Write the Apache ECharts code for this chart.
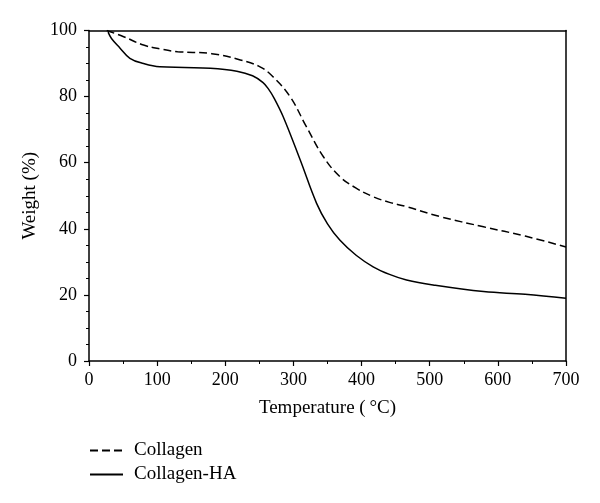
<!DOCTYPE html>
<html>
<head>
<meta charset="utf-8">
<script src="https://cdn.jsdelivr.net/npm/echarts@6/dist/echarts.min.js"></script>
<style>html,body{margin:0;padding:0;background:#fff}#c{width:600px;height:503px}</style>
</head>
<body>
<div id="c"></div>
<script>
var seriesNames = ['Collagen', 'Collagen-HA'];
var collagenT = [26, 50, 80, 105, 130, 180, 222, 251, 270, 295, 319, 344, 368, 392, 417, 441, 466, 515, 579, 640, 700];
var collagenW = [100, 98.2, 95.6, 94.4, 93.6, 93.0, 91.1, 89, 86, 80, 70.9, 61.8, 55.8, 52.3, 49.7, 48, 46.7, 43.7, 40.6, 37.8, 34.5];
var collagenHAT = [28, 33, 45, 60, 80, 104, 140, 178, 217, 240, 255, 263, 272, 285, 310, 334, 350, 368, 392, 417, 441, 466, 505, 579, 640, 700];
var collagenHAW = [99.5, 97.6, 94.8, 91.6, 90, 89, 88.8, 88.6, 87.7, 86.3, 84.3, 82.4, 79.4, 73.9, 60.8, 47.7, 41.5, 36.6, 32, 28.5, 26.2, 24.5, 23, 21, 20.2, 19];
var xTicks = [0, 100, 200, 300, 400, 500, 600, 700];
var yTicks = [0, 20, 40, 60, 80, 100];

function pairs(xs, ys) { return xs.map(function (x, i) { return [x, ys[i]]; }); }

var font = 'Liberation Serif';
var chart = echarts.init(document.getElementById('c'));
chart.setOption({
  animation: false,
  textStyle: { fontFamily: font, color: '#000' },
  grid: { left: 89, right: 34, top: 30.5, bottom: 142, show: false },
  legend: {
    orient: 'vertical', left: 84, top: 436, itemWidth: 33, itemHeight: 14, itemGap: 5,
    itemStyle: { opacity: 0 },
    textStyle: { fontFamily: font, fontSize: 19, color: '#000', padding: [0, 0, 0, 6] },
    data: seriesNames.map(function (n) { return { name: n }; })
  },
  xAxis: [{
    type: 'value', min: 0, max: 700, interval: 100,
    name: 'Temperature (\u2009°C)', nameLocation: 'middle', nameGap: 38,
    nameTextStyle: { fontFamily: font, fontSize: 19, color: '#000' },
    axisLine: { lineStyle: { color: '#000', width: 1.5 } },
    axisTick: { show: true, inside: false, length: 5, lineStyle: { color: '#000', width: 1.2 } },
    minorTick: { show: true, splitNumber: 2, length: 3, lineStyle: { color: '#000', width: 1 } },
    axisLabel: { fontFamily: font, fontSize: 18, color: '#000', margin: 10,
      formatter: function (v) { return xTicks.indexOf(v) >= 0 ? String(v) : ''; } },
    splitLine: { show: false }
  }, {
    type: 'value', min: 0, max: 700, position: 'top',
    axisLine: { show: true, onZero: false, lineStyle: { color: '#000', width: 1.5 } },
    axisTick: { show: false }, axisLabel: { show: false }, splitLine: { show: false }
  }],
  yAxis: [{
    type: 'value', min: 0, max: 100, interval: 20,
    name: 'Weight (%)', nameLocation: 'middle', nameGap: 49,
    nameTextStyle: { fontFamily: font, fontSize: 19, color: '#000' },
    axisLine: { show: true, lineStyle: { color: '#000', width: 1.5 } },
    axisTick: { show: true, length: 5, lineStyle: { color: '#000', width: 1.2 } },
    minorTick: { show: true, splitNumber: 4, length: 3, lineStyle: { color: '#000', width: 1 } },
    axisLabel: { fontFamily: font, fontSize: 18, color: '#000', margin: 12,
      formatter: function (v) { return yTicks.indexOf(v) >= 0 ? String(v) : ''; } },
    splitLine: { show: false }
  }, {
    type: 'value', min: 0, max: 100, position: 'right',
    axisLine: { show: true, onZero: false, lineStyle: { color: '#000', width: 1.5 } },
    axisTick: { show: false }, axisLabel: { show: false }, splitLine: { show: false }
  }],
  series: [{
    name: seriesNames[0], type: 'line', smooth: 0.4, symbol: 'none',
    lineStyle: { color: '#000', width: 1.5, type: [8, 4] },
    itemStyle: { color: '#000' },
    data: pairs(collagenT, collagenW)
  }, {
    name: seriesNames[1], type: 'line', smooth: 0.4, symbol: 'none',
    lineStyle: { color: '#000', width: 1.5, type: 'solid' },
    itemStyle: { color: '#000' },
    data: pairs(collagenHAT, collagenHAW)
  }]
});
</script>
</body>
</html>
